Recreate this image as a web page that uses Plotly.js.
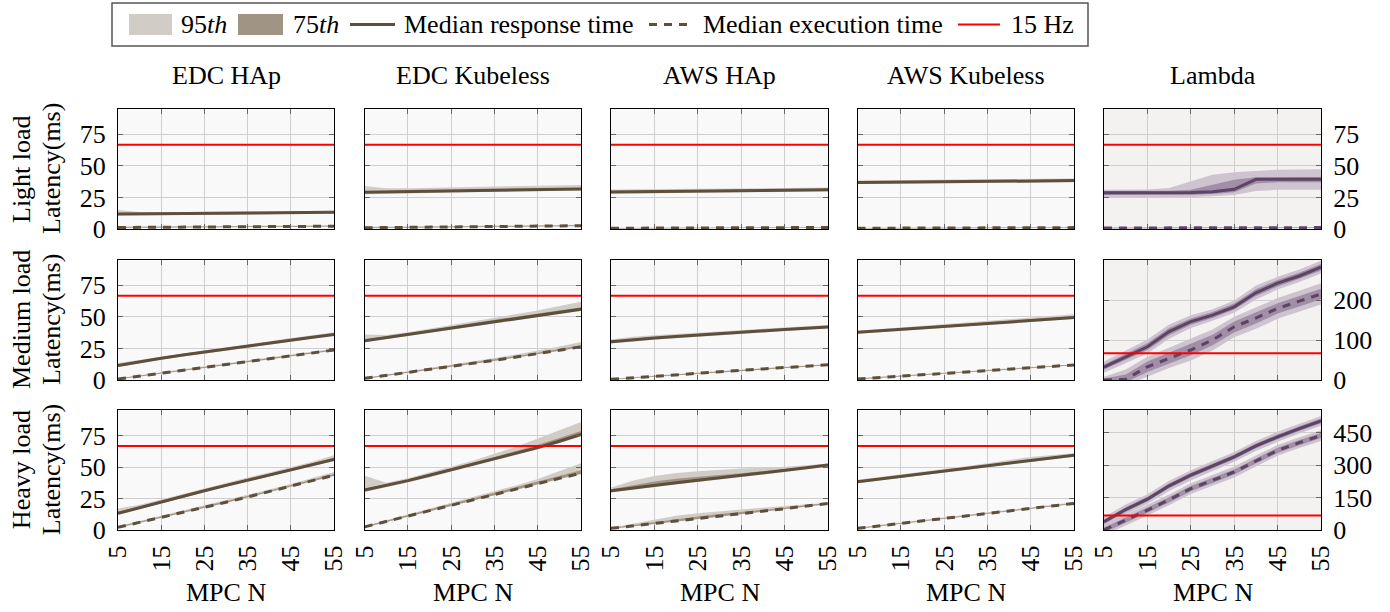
<!DOCTYPE html>
<html>
<head>
<meta charset="utf-8">
<script src="https://cdn.plot.ly/plotly-3.0.1.min.js"></script>
<style>html,body{margin:0;padding:0;background:#fff;}#chart{width:1390px;height:612px;}</style>
</head>
<body>
<div id="chart"></div>
<script>
// ---------------- DATA ----------------
const X_N = [5, 10, 15, 20, 25, 30, 35, 40, 45, 50, 55];
const X_TICKS = [5, 15, 25, 35, 45, 55];
const COLUMN_NAMES = ['EDC HAp', 'EDC Kubeless', 'AWS HAp', 'AWS Kubeless', 'Lambda'];
const ROW_NAMES = ['Light load', 'Medium load', 'Heavy load'];
const Y_LABEL = 'Latency(ms)';
const X_LABEL = 'MPC N';
const LIMIT_15HZ_MS = 66.7;
const Y_TICKS_STD = [0, 25, 50, 75];
const Y_TICKS_LAMBDA = [[0, 25, 50, 75], [0, 100, 200], [0, 150, 300, 450]];
const Y_MAX_STD = 95;
const Y_MAX_LAMBDA = [95, 300, 555];
const LEGEND_LABELS = ['95<i>th</i>', '75<i>th</i>', 'Median response time', 'Median execution time', '15 Hz'];

// each array: [median, p75 low, p75 high, p95 low, p95 high]
// ---- Light load ----
const edcHap_light_resp = [
  [11.8,12.0,12.1,12.3,12.4,12.5,12.7,12.8,13.0,13.1,13.3],
  [11.2,11.4,11.5,11.7,11.8,11.9,12.1,12.2,12.4,12.5,12.7],
  [12.6,12.6,12.7,12.9,13.0,13.1,13.3,13.4,13.6,13.7,13.9],
  [10.6,10.9,11.0,11.2,11.3,11.4,11.6,11.7,11.9,12.0,12.2],
  [15.0,13.4,13.3,13.5,13.6,13.7,13.9,14.0,14.2,14.3,14.5]];
const edcHap_light_exec = [
  [1.2,1.3,1.4,1.5,1.6,1.7,1.8,1.9,2.0,2.1,2.2],
  [0.9,1.0,1.1,1.2,1.3,1.4,1.5,1.6,1.7,1.8,1.9],
  [1.5,1.6,1.7,1.8,1.9,2.0,2.1,2.2,2.3,2.4,2.5],
  [0.7,0.8,0.9,1.0,1.1,1.2,1.3,1.4,1.5,1.6,1.7],
  [1.9,2.0,2.1,2.2,2.3,2.4,2.5,2.6,2.7,2.8,3.0]];
const edcKub_light_resp = [
  [29.0,29.3,29.5,29.8,30.1,30.4,30.6,30.9,31.2,31.5,31.7],
  [28.3,28.6,28.8,29.1,29.4,29.7,29.9,30.2,30.5,30.8,31.0],
  [29.9,30.1,30.3,30.6,30.9,31.2,31.4,31.7,32.0,32.3,32.5],
  [27.6,28.0,28.2,28.5,28.8,29.1,29.3,29.6,29.9,30.2,30.4],
  [34.0,32.2,32.3,32.6,33.0,33.3,33.6,33.9,34.2,34.5,34.8]];
const edcKub_light_exec = [
  [1.0,1.2,1.3,1.5,1.6,1.8,1.9,2.1,2.3,2.4,2.6],
  [0.7,0.9,1.0,1.2,1.3,1.5,1.6,1.8,2.0,2.1,2.3],
  [1.3,1.5,1.6,1.8,1.9,2.1,2.2,2.4,2.6,2.7,2.9],
  [0.5,0.7,0.8,1.0,1.1,1.3,1.4,1.6,1.8,1.9,2.1],
  [1.7,1.9,2.0,2.2,2.3,2.5,2.6,2.8,3.0,3.2,3.4]];
const awsHap_light_resp = [
  [29.3,29.5,29.6,29.8,30.0,30.1,30.3,30.5,30.6,30.8,31.0],
  [28.7,28.9,29.0,29.2,29.4,29.5,29.7,29.9,30.0,30.2,30.4],
  [30.1,30.2,30.3,30.5,30.7,30.8,31.0,31.2,31.3,31.5,31.7],
  [28.0,28.2,28.3,28.5,28.7,28.8,29.0,29.2,29.3,29.5,29.7],
  [31.2,31.3,31.4,31.6,31.8,31.9,32.1,32.3,32.4,32.6,32.8]];
const awsHap_light_exec = [
  [0.6,0.7,0.7,0.8,0.8,0.9,0.9,1.0,1.0,1.1,1.2],
  [0.4,0.5,0.5,0.6,0.6,0.7,0.7,0.8,0.8,0.9,1.0],
  [0.8,0.9,0.9,1.0,1.0,1.1,1.1,1.2,1.2,1.3,1.4],
  [0.3,0.4,0.4,0.5,0.5,0.6,0.6,0.7,0.7,0.8,0.9],
  [1.0,1.1,1.1,1.2,1.2,1.3,1.3,1.4,1.4,1.5,1.6]];
const awsKub_light_resp = [
  [36.8,37.0,37.1,37.3,37.4,37.6,37.7,37.9,38.0,38.2,38.3],
  [36.2,36.4,36.5,36.7,36.8,37.0,37.1,37.3,37.4,37.6,37.7],
  [37.5,37.7,37.8,38.0,38.1,38.3,38.4,38.6,38.7,38.9,39.0],
  [35.6,35.8,35.9,36.1,36.2,36.4,36.5,36.7,36.8,37.0,37.1],
  [38.4,38.6,38.7,38.9,39.0,39.2,39.3,39.5,39.6,39.8,39.9]];
const awsKub_light_exec = [
  [0.6,0.6,0.7,0.7,0.8,0.8,0.9,0.9,1.0,1.0,1.1],
  [0.4,0.4,0.5,0.5,0.6,0.6,0.7,0.7,0.8,0.8,0.9],
  [0.8,0.8,0.9,0.9,1.0,1.0,1.1,1.1,1.2,1.2,1.3],
  [0.3,0.3,0.4,0.4,0.5,0.5,0.6,0.6,0.7,0.7,0.8],
  [1.0,1.0,1.1,1.1,1.2,1.2,1.3,1.3,1.4,1.4,1.5]];
const lambda_light_resp = [
  [28.7,28.7,28.7,28.7,28.8,29.5,31.4,39.3,39.3,39.4,39.4],
  [27.0,27.0,27.0,27.0,27.0,27.8,29.0,36.0,37.0,37.0,37.0],
  [30.0,30.0,30.0,30.2,31.0,35.0,39.0,41.0,41.2,41.2,41.2],
  [25.0,25.0,25.0,25.0,25.2,26.0,27.0,30.0,31.0,31.0,31.0],
  [31.0,31.0,31.2,32.5,38.0,43.0,45.0,46.0,47.0,47.2,47.4]];
const lambda_light_exec = [
  [0.8,0.8,0.9,0.9,0.9,1.0,1.0,1.0,1.1,1.1,1.1],
  [0.6,0.6,0.7,0.7,0.7,0.8,0.8,0.8,0.9,0.9,0.9],
  [1.0,1.0,1.1,1.1,1.1,1.2,1.2,1.2,1.3,1.3,1.3],
  [0.4,0.4,0.5,0.5,0.5,0.6,0.6,0.6,0.7,0.7,0.7],
  [1.3,1.3,1.4,1.4,1.4,1.5,1.5,1.5,1.6,1.6,1.6]];

// ---- Medium load ----
const edcHap_med_resp = [
  [11.5,14.5,17.2,19.8,22.2,24.6,27.0,29.3,31.6,33.8,36.0],
  [10.9,13.9,16.6,19.2,21.6,24.0,26.4,28.7,31.0,33.2,35.4],
  [12.2,15.2,17.9,20.5,23.0,25.4,27.8,30.1,32.4,34.7,36.9],
  [10.3,13.3,16.0,18.6,21.0,23.4,25.8,28.1,30.4,32.6,34.8],
  [13.4,15.9,18.6,21.2,23.7,26.1,28.5,30.9,33.2,35.5,37.8]];
const edcHap_med_exec = [
  [0.8,3.0,5.3,7.6,9.9,12.2,14.5,16.8,19.1,21.4,23.7],
  [0.5,2.7,5.0,7.3,9.6,11.9,14.2,16.5,18.8,21.1,23.4],
  [1.1,3.4,5.7,8.0,10.3,12.6,14.9,17.2,19.5,21.8,24.1],
  [0.3,2.5,4.8,7.1,9.4,11.7,14.0,16.3,18.6,20.9,23.2],
  [1.4,3.8,6.1,8.4,10.8,13.1,15.4,17.7,20.0,22.4,24.8]];
const edcKub_med_resp = [
  [31.1,33.6,36.1,38.8,41.5,44.0,46.5,48.9,51.3,53.6,56.0],
  [30.4,32.9,35.4,38.1,40.8,43.3,45.8,48.2,50.6,52.9,55.3],
  [32.2,34.3,36.9,39.6,42.4,45.0,47.6,50.1,52.6,55.1,57.6],
  [29.8,32.3,34.8,37.5,40.2,42.7,45.2,47.6,50.0,52.3,54.7],
  [36.0,35.6,37.8,40.6,43.4,46.2,49.0,52.0,55.0,58.5,62.0]];
const edcKub_med_exec = [
  [1.3,3.6,6.0,8.4,10.8,13.2,15.6,18.2,20.8,23.5,26.3],
  [1.0,3.3,5.7,8.1,10.5,12.9,15.3,17.9,20.5,23.2,26.0],
  [1.6,4.0,6.4,8.9,11.3,13.8,16.3,18.9,21.6,24.5,27.6],
  [0.8,3.1,5.5,7.9,10.3,12.7,15.1,17.7,20.3,23.0,25.8],
  [1.8,4.3,6.9,9.5,12.1,14.7,17.4,20.2,23.2,26.5,30.0]];
const awsHap_med_resp = [
  [30.2,31.8,33.2,34.4,35.6,36.8,37.9,39.0,40.0,41.0,42.0],
  [29.6,31.2,32.6,33.8,35.0,36.2,37.3,38.4,39.4,40.4,41.4],
  [31.0,32.7,34.1,35.3,36.5,37.6,38.7,39.8,40.8,41.8,42.8],
  [28.9,30.5,31.9,33.1,34.3,35.5,36.6,37.7,38.7,39.7,40.7],
  [32.0,34.2,35.5,36.6,37.6,38.6,39.6,40.6,41.6,42.6,43.6]];
const awsHap_med_exec = [
  [0.5,1.8,3.0,4.2,5.4,6.6,7.7,8.8,9.9,11.0,12.0],
  [0.3,1.5,2.7,3.9,5.1,6.3,7.4,8.5,9.6,10.7,11.7],
  [0.8,2.1,3.3,4.5,5.7,6.9,8.0,9.1,10.2,11.3,12.3],
  [0.1,1.3,2.5,3.7,4.9,6.1,7.2,8.3,9.4,10.5,11.5],
  [1.0,2.4,3.6,4.8,6.0,7.2,8.3,9.4,10.5,11.6,12.6]];
const awsKub_med_resp = [
  [37.8,39.0,40.2,41.3,42.4,43.6,44.8,46.0,47.2,48.3,49.4],
  [37.2,38.4,39.6,40.7,41.8,43.0,44.2,45.4,46.6,47.7,48.8],
  [38.4,39.6,40.8,41.9,43.0,44.2,45.4,46.6,47.9,49.1,50.4],
  [36.7,37.9,39.1,40.2,41.3,42.5,43.7,44.9,46.1,47.2,48.3],
  [39.0,40.3,41.5,42.6,43.8,45.0,46.3,47.6,48.9,50.4,52.0]];
const awsKub_med_exec = [
  [0.8,1.9,3.0,4.1,5.2,6.4,7.5,8.6,9.7,10.8,11.9],
  [0.6,1.6,2.7,3.8,4.9,6.1,7.2,8.3,9.4,10.5,11.6],
  [1.1,2.2,3.3,4.4,5.5,6.7,7.8,8.9,10.0,11.1,12.2],
  [0.4,1.4,2.5,3.6,4.7,5.9,7.0,8.1,9.2,10.3,11.4],
  [1.3,2.4,3.5,4.6,5.7,6.9,8.0,9.1,10.2,11.3,12.5]];
const lambda_med_resp = [
  [32,58,83,121,146,162,183,218,242,260,282],
  [26,51,75,112,138,155,176,210,234,253,274],
  [39,65,92,130,154,170,191,227,250,268,290],
  [18,43,66,103,130,148,168,201,226,245,266],
  [46,73,101,139,162,177,199,236,258,276,298]];
const lambda_med_exec = [
  [0,2,33,55,75,100,133,155,179,197,215],
  [-6,-6,20,42,62,87,119,141,166,184,202],
  [4,14,46,68,89,113,146,169,192,210,228],
  [-12,-12,8,30,49,74,107,128,153,171,189],
  [8,26,58,81,102,126,158,182,205,223,242]];

// ---- Heavy load ----
const edcHap_heavy_resp = [
  [13.2,17.8,22.4,26.8,31.1,35.4,39.6,43.6,47.5,51.7,56.0],
  [12.6,17.2,21.8,26.2,30.5,34.8,39.0,43.0,46.9,51.1,55.3],
  [14.4,18.6,23.2,27.7,32.1,36.4,40.6,44.7,48.7,53.0,57.4],
  [12.0,16.6,21.2,25.6,29.9,34.2,38.4,42.4,46.3,50.5,54.7],
  [17.0,20.0,24.2,28.6,33.0,37.4,41.6,45.6,49.6,54.2,59.4]];
const edcHap_heavy_exec = [
  [2.1,6.0,9.9,13.9,17.9,22.0,26.2,30.4,34.7,39.1,43.5],
  [1.8,5.7,9.6,13.6,17.6,21.7,25.9,30.1,34.4,38.8,43.1],
  [2.5,6.5,10.4,14.4,18.5,22.7,26.9,31.2,35.5,40.0,44.4],
  [1.5,5.4,9.3,13.3,17.3,21.4,25.6,29.8,34.1,38.5,42.8],
  [3.0,7.1,11.1,15.2,19.3,23.6,27.9,32.2,36.6,41.2,46.0]];
const edcKub_heavy_resp = [
  [31.7,35.3,39.2,43.4,47.7,52.0,56.5,60.9,65.4,70.4,75.8],
  [30.9,34.5,38.4,42.6,46.9,51.2,55.7,60.1,64.6,69.6,75.0],
  [33.0,36.1,40.1,44.4,48.8,53.4,58.0,62.7,67.6,73.0,78.6],
  [30.2,33.8,37.7,41.9,46.2,50.5,55.0,59.4,63.9,68.9,74.3],
  [43.0,37.5,41.0,45.5,50.0,55.0,60.5,66.0,72.6,79.0,85.7]];
const edcKub_heavy_exec = [
  [2.5,6.8,11.0,15.4,19.8,24.2,28.6,32.7,36.8,41.0,45.0],
  [2.1,6.4,10.6,15.0,19.4,23.8,28.2,32.3,36.4,40.6,44.6],
  [2.9,7.3,11.6,16.0,20.5,25.0,29.5,33.8,38.3,42.9,47.4],
  [1.8,6.1,10.3,14.7,19.1,23.5,27.9,32.0,36.1,40.3,44.3],
  [3.2,7.8,12.2,16.8,21.3,26.0,30.7,35.4,40.4,46.5,53.0]];
const awsHap_heavy_resp = [
  [31.1,33.4,35.5,37.5,39.4,41.3,43.3,45.3,47.4,49.4,51.5],
  [30.4,32.7,34.8,36.8,38.7,40.6,42.6,44.6,46.7,48.7,50.8],
  [32.4,35.6,38.4,40.6,42.3,43.7,45.0,46.5,48.3,50.2,52.3],
  [29.7,32.0,34.1,36.1,38.0,39.9,41.9,43.9,46.0,48.0,50.1],
  [33.8,39.0,42.8,45.2,46.7,47.9,48.8,49.5,50.1,51.4,52.8]];
const awsHap_heavy_exec = [
  [1.3,3.2,5.2,7.2,9.2,11.1,13.0,14.9,16.9,19.0,21.0],
  [1.0,2.9,4.9,6.9,8.9,10.8,12.7,14.6,16.6,18.7,20.7],
  [1.6,4.0,6.6,8.9,10.8,12.6,14.2,15.8,17.6,19.6,21.4],
  [0.8,2.7,4.7,6.7,8.7,10.6,12.5,14.4,16.4,18.5,20.5],
  [1.8,5.0,8.5,11.4,13.2,14.9,16.3,17.6,19.0,20.4,21.6]];
const awsKub_heavy_resp = [
  [38.3,40.4,42.5,44.6,46.6,48.7,50.8,52.9,55.0,57.3,59.4],
  [37.7,39.8,41.9,44.0,46.0,48.1,50.2,52.3,54.4,56.7,58.8],
  [39.0,41.1,43.2,45.3,47.4,49.6,51.8,54.1,56.4,58.4,60.2],
  [37.1,39.2,41.3,43.4,45.4,47.5,49.6,51.7,53.8,56.1,58.2],
  [39.8,41.9,44.0,46.1,48.3,50.6,53.0,55.6,58.0,59.6,61.0]];
const awsKub_heavy_exec = [
  [1.3,3.2,5.2,7.1,9.1,11.1,13.1,15.1,17.1,19.1,21.1],
  [1.0,2.9,4.9,6.8,8.8,10.8,12.8,14.8,16.8,18.8,20.8],
  [1.6,3.5,5.5,7.4,9.4,11.4,13.4,15.4,17.4,19.4,21.4],
  [0.8,2.7,4.7,6.6,8.6,10.6,12.6,14.6,16.6,18.6,20.6],
  [1.9,3.9,5.9,7.8,9.8,11.8,13.8,15.8,17.8,19.9,22.0]];
const lambda_heavy_resp = [
  [38,95,143,205,254,295,339,390,432,470,506],
  [28,84,132,194,243,284,328,379,421,459,495],
  [48,105,154,216,265,306,350,401,443,481,517],
  [16,72,120,181,230,272,316,366,409,448,483],
  [60,118,166,228,277,318,362,413,455,493,529]];
const lambda_heavy_exec = [
  [0,45,92,140,192,230,269,320,369,405,438],
  [-12,33,80,128,180,218,257,308,357,393,426],
  [12,57,104,152,204,242,281,332,381,417,450],
  [-25,20,67,115,167,205,244,295,344,380,413],
  [25,70,117,165,217,255,294,345,394,430,463]];

const PANELS = [
  [[edcHap_light_resp, edcHap_light_exec], [edcKub_light_resp, edcKub_light_exec], [awsHap_light_resp, awsHap_light_exec], [awsKub_light_resp, awsKub_light_exec], [lambda_light_resp, lambda_light_exec]],
  [[edcHap_med_resp, edcHap_med_exec], [edcKub_med_resp, edcKub_med_exec], [awsHap_med_resp, awsHap_med_exec], [awsKub_med_resp, awsKub_med_exec], [lambda_med_resp, lambda_med_exec]],
  [[edcHap_heavy_resp, edcHap_heavy_exec], [edcKub_heavy_resp, edcKub_heavy_exec], [awsHap_heavy_resp, awsHap_heavy_exec], [awsKub_heavy_resp, awsKub_heavy_exec], [lambda_heavy_resp, lambda_heavy_exec]]
];

// ---------------- STYLE / LAYOUT ----------------
const W = 1390, H = 612;
const FONT = '"Liberation Serif", "Times New Roman", Times, serif';
const FS = 26;
const COL_X = [[118, 334], [364.7, 581], [611, 828], [857.5, 1074], [1104, 1321]];
const ROW_Y = [[109, 229], [260, 380], [410.3, 530]];
const BROWN = {line: '#5e4f3c', p75: '#a09585', p95: '#d1ccc6', bg: '#f9f9f9'};
const PURPLE = {line: '#5d4466', p75: '#a08fa6', p95: '#cec4d0', bg: '#f4f1f1'};
const RED = '#ff0000';

const px = v => v / W;
const py = v => 1 - v / H;

const traces = [];
const layout = {
  width: W, height: H,
  margin: {l: 0, r: 0, t: 0, b: 0},
  paper_bgcolor: '#ffffff', plot_bgcolor: '#ffffff',
  font: {family: FONT, size: FS, color: '#000'},
  showlegend: false,
  shapes: [], annotations: []
};

function addBand(ax, lo, hi, color) {
  traces.push({x: X_N, y: lo, xaxis: ax.x, yaxis: ax.y, mode: 'lines', line: {width: 0, color: color}, hoverinfo: 'skip', showlegend: false});
  traces.push({x: X_N, y: hi, xaxis: ax.x, yaxis: ax.y, mode: 'lines', line: {width: 0, color: color}, fill: 'tonexty', fillcolor: color, hoverinfo: 'skip', showlegend: false});
}

for (let r = 0; r < 3; r++) {
  for (let c = 0; c < 5; c++) {
    const k = r * 5 + c + 1;
    const sfx = k === 1 ? '' : String(k);
    const ax = {x: 'x' + sfx, y: 'y' + sfx};
    const isLambda = c === 4;
    const pal = isLambda ? PURPLE : BROWN;
    const [resp, exec] = PANELS[r][c];

    addBand(ax, resp[3], resp[4], pal.p95);
    addBand(ax, exec[3], exec[4], pal.p95);
    addBand(ax, resp[1], resp[2], pal.p75);
    addBand(ax, exec[1], exec[2], pal.p75);
    traces.push({x: X_N, y: resp[0], xaxis: ax.x, yaxis: ax.y, mode: 'lines', line: {color: pal.line, width: 3}, name: 'Median response time', showlegend: false});
    traces.push({x: X_N, y: exec[0], xaxis: ax.x, yaxis: ax.y, mode: 'lines', line: {color: pal.line, width: 3, dash: '8px,7px'}, name: 'Median execution time', showlegend: false});
    traces.push({x: X_N, y: X_N.map(() => LIMIT_15HZ_MS), xaxis: ax.x, yaxis: ax.y, mode: 'lines', line: {color: RED, width: 2}, name: '15 Hz', showlegend: false});

    layout['xaxis' + sfx] = {
      domain: [px(COL_X[c][0]), px(COL_X[c][1])],
      anchor: ax.y,
      range: [X_N[0], X_N[X_N.length - 1]],
      tickvals: X_TICKS, ticktext: X_TICKS.map(String),
      showticklabels: r === 2, tickangle: -90,
      tickfont: {family: FONT, size: FS, color: '#000'},
      ticklabelstandoff: 4,
      showgrid: true, gridcolor: '#cfcfcf', gridwidth: 1,
      showline: true, linecolor: '#000', linewidth: 1, mirror: 'ticks',
      ticks: 'inside', ticklen: 5, tickcolor: '#666', tickwidth: 1,
      zeroline: false, fixedrange: true
    };
    const yTicks = isLambda ? Y_TICKS_LAMBDA[r] : Y_TICKS_STD;
    const yMax = isLambda ? Y_MAX_LAMBDA[r] : Y_MAX_STD;
    layout['yaxis' + sfx] = {
      domain: [py(ROW_Y[r][1]), py(ROW_Y[r][0])],
      anchor: ax.x,
      range: [0, yMax],
      tickvals: yTicks, ticktext: yTicks.map(String),
      showticklabels: c === 0 || c === 4,
      side: isLambda ? 'right' : 'left',
      tickfont: {family: FONT, size: FS, color: '#000'},
      ticklabelstandoff: 6,
      showgrid: true, gridcolor: '#cfcfcf', gridwidth: 1,
      showline: true, linecolor: '#000', linewidth: 1, mirror: 'ticks',
      ticks: 'inside', ticklen: 5, tickcolor: '#666', tickwidth: 1,
      zeroline: false, fixedrange: true
    };
    layout.shapes.push({type: 'rect', xref: ax.x + ' domain', yref: ax.y + ' domain', x0: 0, x1: 1, y0: 0, y1: 1,
      fillcolor: pal.bg, line: {width: 0}, layer: 'below'});

    if (r === 0) {
      layout.annotations.push({text: COLUMN_NAMES[c], xref: 'paper', yref: 'paper',
        x: px((COL_X[c][0] + COL_X[c][1]) / 2), y: py(75), xanchor: 'center', yanchor: 'middle', showarrow: false,
        font: {family: FONT, size: FS, color: '#000'}});
    }
    if (r === 2) {
      layout.annotations.push({text: X_LABEL, xref: 'paper', yref: 'paper',
        x: px((COL_X[c][0] + COL_X[c][1]) / 2), y: py(592), xanchor: 'center', yanchor: 'middle', showarrow: false,
        font: {family: FONT, size: FS, color: '#000'}});
    }
  }
  const cy = (ROW_Y[r][0] + ROW_Y[r][1]) / 2;
  layout.annotations.push({text: ROW_NAMES[r], xref: 'paper', yref: 'paper', x: px(21), y: py(cy),
    xanchor: 'center', yanchor: 'middle', textangle: -90, showarrow: false, font: {family: FONT, size: FS, color: '#000'}});
  layout.annotations.push({text: Y_LABEL, xref: 'paper', yref: 'paper', x: px(51), y: py(cy),
    xanchor: 'center', yanchor: 'middle', textangle: -90, showarrow: false, font: {family: FONT, size: FS, color: '#000'}});
}

// ---------------- LEGEND (drawn box) ----------------
const LY = 24.5;
layout.shapes.push({type: 'rect', xref: 'paper', yref: 'paper', x0: px(112), x1: px(1088), y0: py(46), y1: py(3),
  line: {color: '#555', width: 1.5}, fillcolor: '#fff', layer: 'above'});
layout.shapes.push({type: 'rect', xref: 'paper', yref: 'paper', x0: px(129), x1: px(172), y0: py(35), y1: py(14),
  line: {width: 0}, fillcolor: BROWN.p95, layer: 'above'});
layout.shapes.push({type: 'rect', xref: 'paper', yref: 'paper', x0: px(238), x1: px(283), y0: py(35), y1: py(14),
  line: {width: 0}, fillcolor: BROWN.p75, layer: 'above'});
layout.shapes.push({type: 'line', xref: 'paper', yref: 'paper', x0: px(350), x1: px(395), y0: py(LY), y1: py(LY),
  line: {color: BROWN.line, width: 3}, layer: 'above'});
layout.shapes.push({type: 'line', xref: 'paper', yref: 'paper', x0: px(649), x1: px(690), y0: py(LY), y1: py(LY),
  line: {color: BROWN.line, width: 3, dash: '8px,7px'}, layer: 'above'});
layout.shapes.push({type: 'line', xref: 'paper', yref: 'paper', x0: px(958), x1: px(1000), y0: py(LY), y1: py(LY),
  line: {color: RED, width: 2}, layer: 'above'});
const LEG_TEXT_X = [179, 291, 402, 701, 1009];
LEGEND_LABELS.forEach((t, i) => {
  layout.annotations.push({text: t, xref: 'paper', yref: 'paper', x: px(LEG_TEXT_X[i]), y: py(LY),
    xanchor: 'left', yanchor: 'middle', showarrow: false, font: {family: FONT, size: FS, color: '#000'}});
});

Plotly.newPlot('chart', traces, layout, {staticPlot: true, displayModeBar: false});
</script>
</body>
</html>
